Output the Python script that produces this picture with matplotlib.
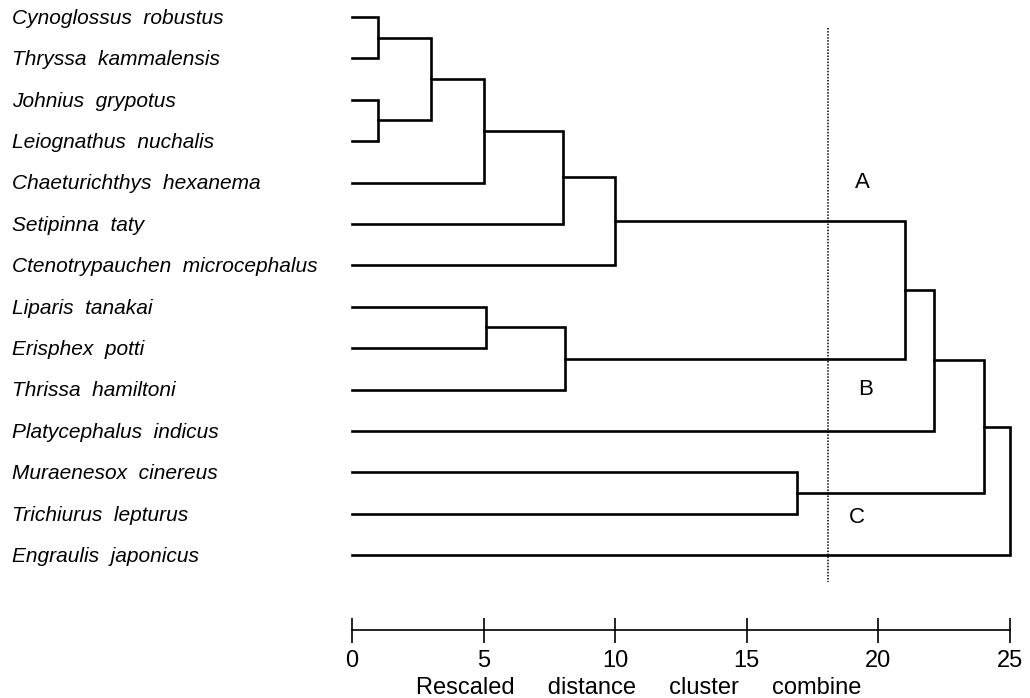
import matplotlib.pyplot as plt

# species in dendrogram order (top to bottom)
species = ['Cynoglossus  robustus', 'Thryssa  kammalensis', 'Johnius  grypotus',
           'Leiognathus  nuchalis', 'Chaeturichthys  hexanema', 'Setipinna  taty',
           'Ctenotrypauchen  microcephalus', 'Liparis  tanakai', 'Erisphex  potti',
           'Thrissa  hamiltoni', 'Platycephalus  indicus', 'Muraenesox  cinereus',
           'Trichiurus  lepturus', 'Engraulis  japonicus']

# merges: (left node, right node, rescaled distance); nodes >= 14 are earlier merges
merges = [(0, 1, 1.0), (2, 3, 1.0), (14, 15, 3.0), (16, 4, 5.0),
          (17, 5, 8.0), (18, 6, 10.0), (7, 8, 5.1), (20, 9, 8.1),
          (19, 21, 21.0), (22, 10, 22.1), (11, 12, 16.9), (23, 24, 24.0),
          (25, 13, 25.0)]

cut_level = 18.1
group_names = ['A', 'B', 'C']
group_pos = [(19.4, 4.0), (19.5, 9.0), (19.2, 12.1)]

ticks = [0, 5, 10, 15, 20, 25]

plt.rcParams['font.family'] = ['Liberation Sans', 'DejaVu Sans']

fig = plt.figure(figsize=(10.30, 6.98), dpi=100)
ax = fig.add_axes([0, 0, 1, 1])

# node positions: (x height, y row)
pos = {i: (0.0, float(i)) for i in range(len(species))}
for k, (a, b, h) in enumerate(merges):
    xa, ya = pos[a]
    xb, yb = pos[b]
    ax.plot([xa, h, h, xb], [ya, ya, yb, yb], color='black', lw=1.9,
            solid_joinstyle='miter')
    pos[len(species) + k] = (h, (ya + yb) / 2)

for i, name in enumerate(species):
    ax.text(-12.92, i + 0.03, name, ha='left', va='center', fontsize=15,
            style='italic')

ax.plot([cut_level, cut_level], [0.27, 13.65], color='black', lw=1.1,
        linestyle=(0, (1, 1)))

for g, (gx, gy) in zip(group_names, group_pos):
    ax.text(gx, gy, g, ha='center', va='center', fontsize=16)

ax.set_xlim(-13.37, 25.76)
ax.set_ylim(16.45, -0.41)
for s in ['left', 'top', 'right']:
    ax.spines[s].set_visible(False)
ax.spines['bottom'].set_position(('data', 14.81))
ax.spines['bottom'].set_bounds(0, 25)
ax.spines['bottom'].set_linewidth(1.2)
ax.set_xticks(ticks)
ax.set_xticklabels([str(t) for t in ticks])
ax.tick_params(axis='x', direction='inout', length=18, width=1.2,
               labelsize=17, pad=5)
ax.set_yticks([])

ax.text(10.9, 16.2, 'Rescaled     distance     cluster     combine',
        ha='center', va='center', fontsize=17)

fig.savefig('out.png', dpi=100)
